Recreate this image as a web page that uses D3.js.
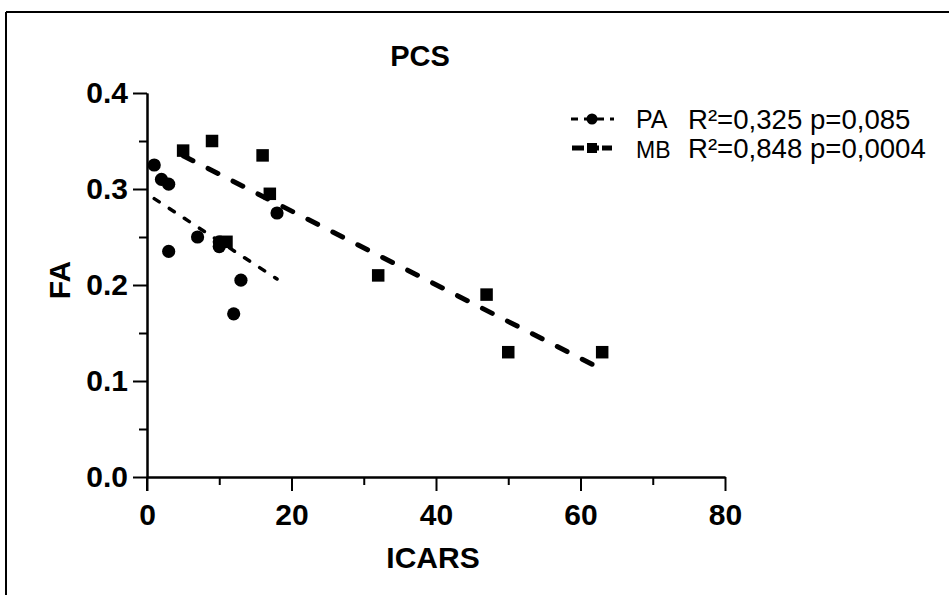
<!DOCTYPE html>
<html><head><meta charset="utf-8">
<script src="https://cdn.jsdelivr.net/npm/d3@7"></script>
<style>body{margin:0;background:#fff}svg{display:block}text{font-family:Arial,"Liberation Sans",sans-serif;fill:#000}</style>
</head><body><svg id="c" width="949" height="595"></svg>
<script>
// Data
const paX = [1, 2, 3, 3, 7, 10, 10, 12, 13, 18];
const paY = [0.325, 0.31, 0.305, 0.235, 0.25, 0.24, 0.245, 0.17, 0.205, 0.275];
const mbX = [5, 9, 11, 16, 17, 32, 47, 50, 63];
const mbY = [0.34, 0.35, 0.245, 0.335, 0.295, 0.21, 0.19, 0.13, 0.13];
const xTicks = [0, 20, 40, 60, 80];
const yTicks = [0.0, 0.1, 0.2, 0.3, 0.4];
const seriesNames = ["PA", "MB"];
const statsText = ["R²=0,325 p=0,085", "R²=0,848 p=0,0004"];
const title = "PCS", xTitle = "ICARS", yTitle = "FA";

const svg = d3.select("#c");
const x = d3.scaleLinear().domain([0, 80]).range([147, 725]);
const y = d3.scaleLinear().domain([0, 0.4]).range([477, 93]);

// frame
svg.append("line").attr("x1", 6).attr("x2", 949).attr("y1", 12).attr("y2", 12).attr("stroke", "#000").attr("stroke-width", 2);
svg.append("line").attr("x1", 6).attr("x2", 6).attr("y1", 12).attr("y2", 595).attr("stroke", "#000").attr("stroke-width", 2);

// axes
const xAx = svg.append("g").attr("transform", `translate(0,${y(0)})`)
  .call(d3.axisBottom(x).tickValues(xTicks).tickFormat(d3.format("d")).tickSize(14).tickSizeOuter(0).tickPadding(13));
xAx.append("g").call(d3.axisBottom(x).tickValues([10, 30, 50, 70]).tickSize(8).tickFormat("").tickSizeOuter(0));
const yAx = svg.append("g").attr("transform", `translate(${x(0)},0)`)
  .call(d3.axisLeft(y).tickValues(yTicks).tickFormat(d3.format(".1f")).tickSize(14).tickSizeOuter(0).tickPadding(5));
yAx.append("g").call(d3.axisLeft(y).tickValues([0.05, 0.15, 0.25, 0.35]).tickSize(8).tickFormat("").tickSizeOuter(0));
svg.selectAll(".domain, .tick line").attr("stroke", "#000").attr("stroke-width", 2);
svg.selectAll(".tick text").attr("font-size", 30).attr("font-weight", "bold").attr("fill", "#000").attr("font-family", "Arial, 'Liberation Sans', sans-serif");
// extend y-axis below x-axis
svg.append("line").attr("x1", x(0)).attr("x2", x(0)).attr("y1", y(0)).attr("y2", y(0) + 14).attr("stroke", "#000").attr("stroke-width", 2);

// titles
svg.append("text").attr("x", 420).attr("y", 66).attr("text-anchor", "middle").attr("font-size", 29).attr("font-weight", "bold").text(title);
svg.append("text").attr("x", 433).attr("y", 568).attr("text-anchor", "middle").attr("font-size", 30).attr("font-weight", "bold").text(xTitle);
svg.append("text").attr("transform", "translate(70,280) rotate(-90)").attr("text-anchor", "middle").attr("font-size", 30).attr("font-weight", "bold").text(yTitle);

// regression
function reg(xs, ys) {
  const mx = d3.mean(xs), my = d3.mean(ys);
  let sxy = 0, sxx = 0;
  xs.forEach((v, i) => { sxy += (v - mx) * (ys[i] - my); sxx += (v - mx) * (v - mx); });
  const b = sxy / sxx, a = my - b * mx;
  const x0 = d3.min(xs), x1 = d3.max(xs);
  return [[x0, a + b * x0], [x1, a + b * x1]];
}
const line = d3.line().x(d => x(d[0])).y(d => y(d[1]));
svg.append("path").attr("d", line(reg(paX, paY))).attr("fill", "none").attr("stroke", "#000")
  .attr("stroke-width", 3.5).attr("stroke-dasharray", "6 12").attr("stroke-linecap", "round");
svg.append("path").attr("d", line(reg(mbX, mbY))).attr("fill", "none").attr("stroke", "#000")
  .attr("stroke-width", 5).attr("stroke-dasharray", "11 17").attr("stroke-linecap", "round");

// points
svg.append("g").selectAll("circle").data(paX.map((v, i) => [v, paY[i]])).join("circle")
  .attr("cx", d => x(d[0])).attr("cy", d => y(d[1])).attr("r", 6.6).attr("fill", "#000");
const sq = 12.5;
svg.append("g").selectAll("rect").data(mbX.map((v, i) => [v, mbY[i]])).join("rect")
  .attr("x", d => x(d[0]) - sq / 2).attr("y", d => y(d[1]) - sq / 2).attr("width", sq).attr("height", sq).attr("fill", "#000");

// legend
const lg = svg.append("g");
const r1 = 119, r2 = 148;
lg.append("line").attr("x1", 571).attr("x2", 614).attr("y1", r1).attr("y2", r1).attr("stroke", "#000")
  .attr("stroke-width", 3).attr("stroke-dasharray", "7 6");
lg.append("circle").attr("cx", 592).attr("cy", r1).attr("r", 5.5).attr("fill", "#000");
lg.append("text").attr("x", 636).attr("y", r1 + 9).attr("font-size", 25).text(seriesNames[0]);
lg.append("text").attr("x", 688).attr("y", r1 + 10).attr("font-size", 27.6).text(statsText[0]);
lg.append("line").attr("x1", 572).attr("x2", 612).attr("y1", r2).attr("y2", r2).attr("stroke", "#000")
  .attr("stroke-width", 5).attr("stroke-dasharray", "12 3");
lg.append("rect").attr("x", 587).attr("y", r2 - 5).attr("width", 10).attr("height", 10).attr("fill", "#000");
lg.append("text").attr("x", 636).attr("y", r2 + 10).attr("font-size", 23).text(seriesNames[1]);
lg.append("text").attr("x", 688).attr("y", r2 + 10).attr("font-size", 27.6).text(statsText[1]);
</script></body></html>
